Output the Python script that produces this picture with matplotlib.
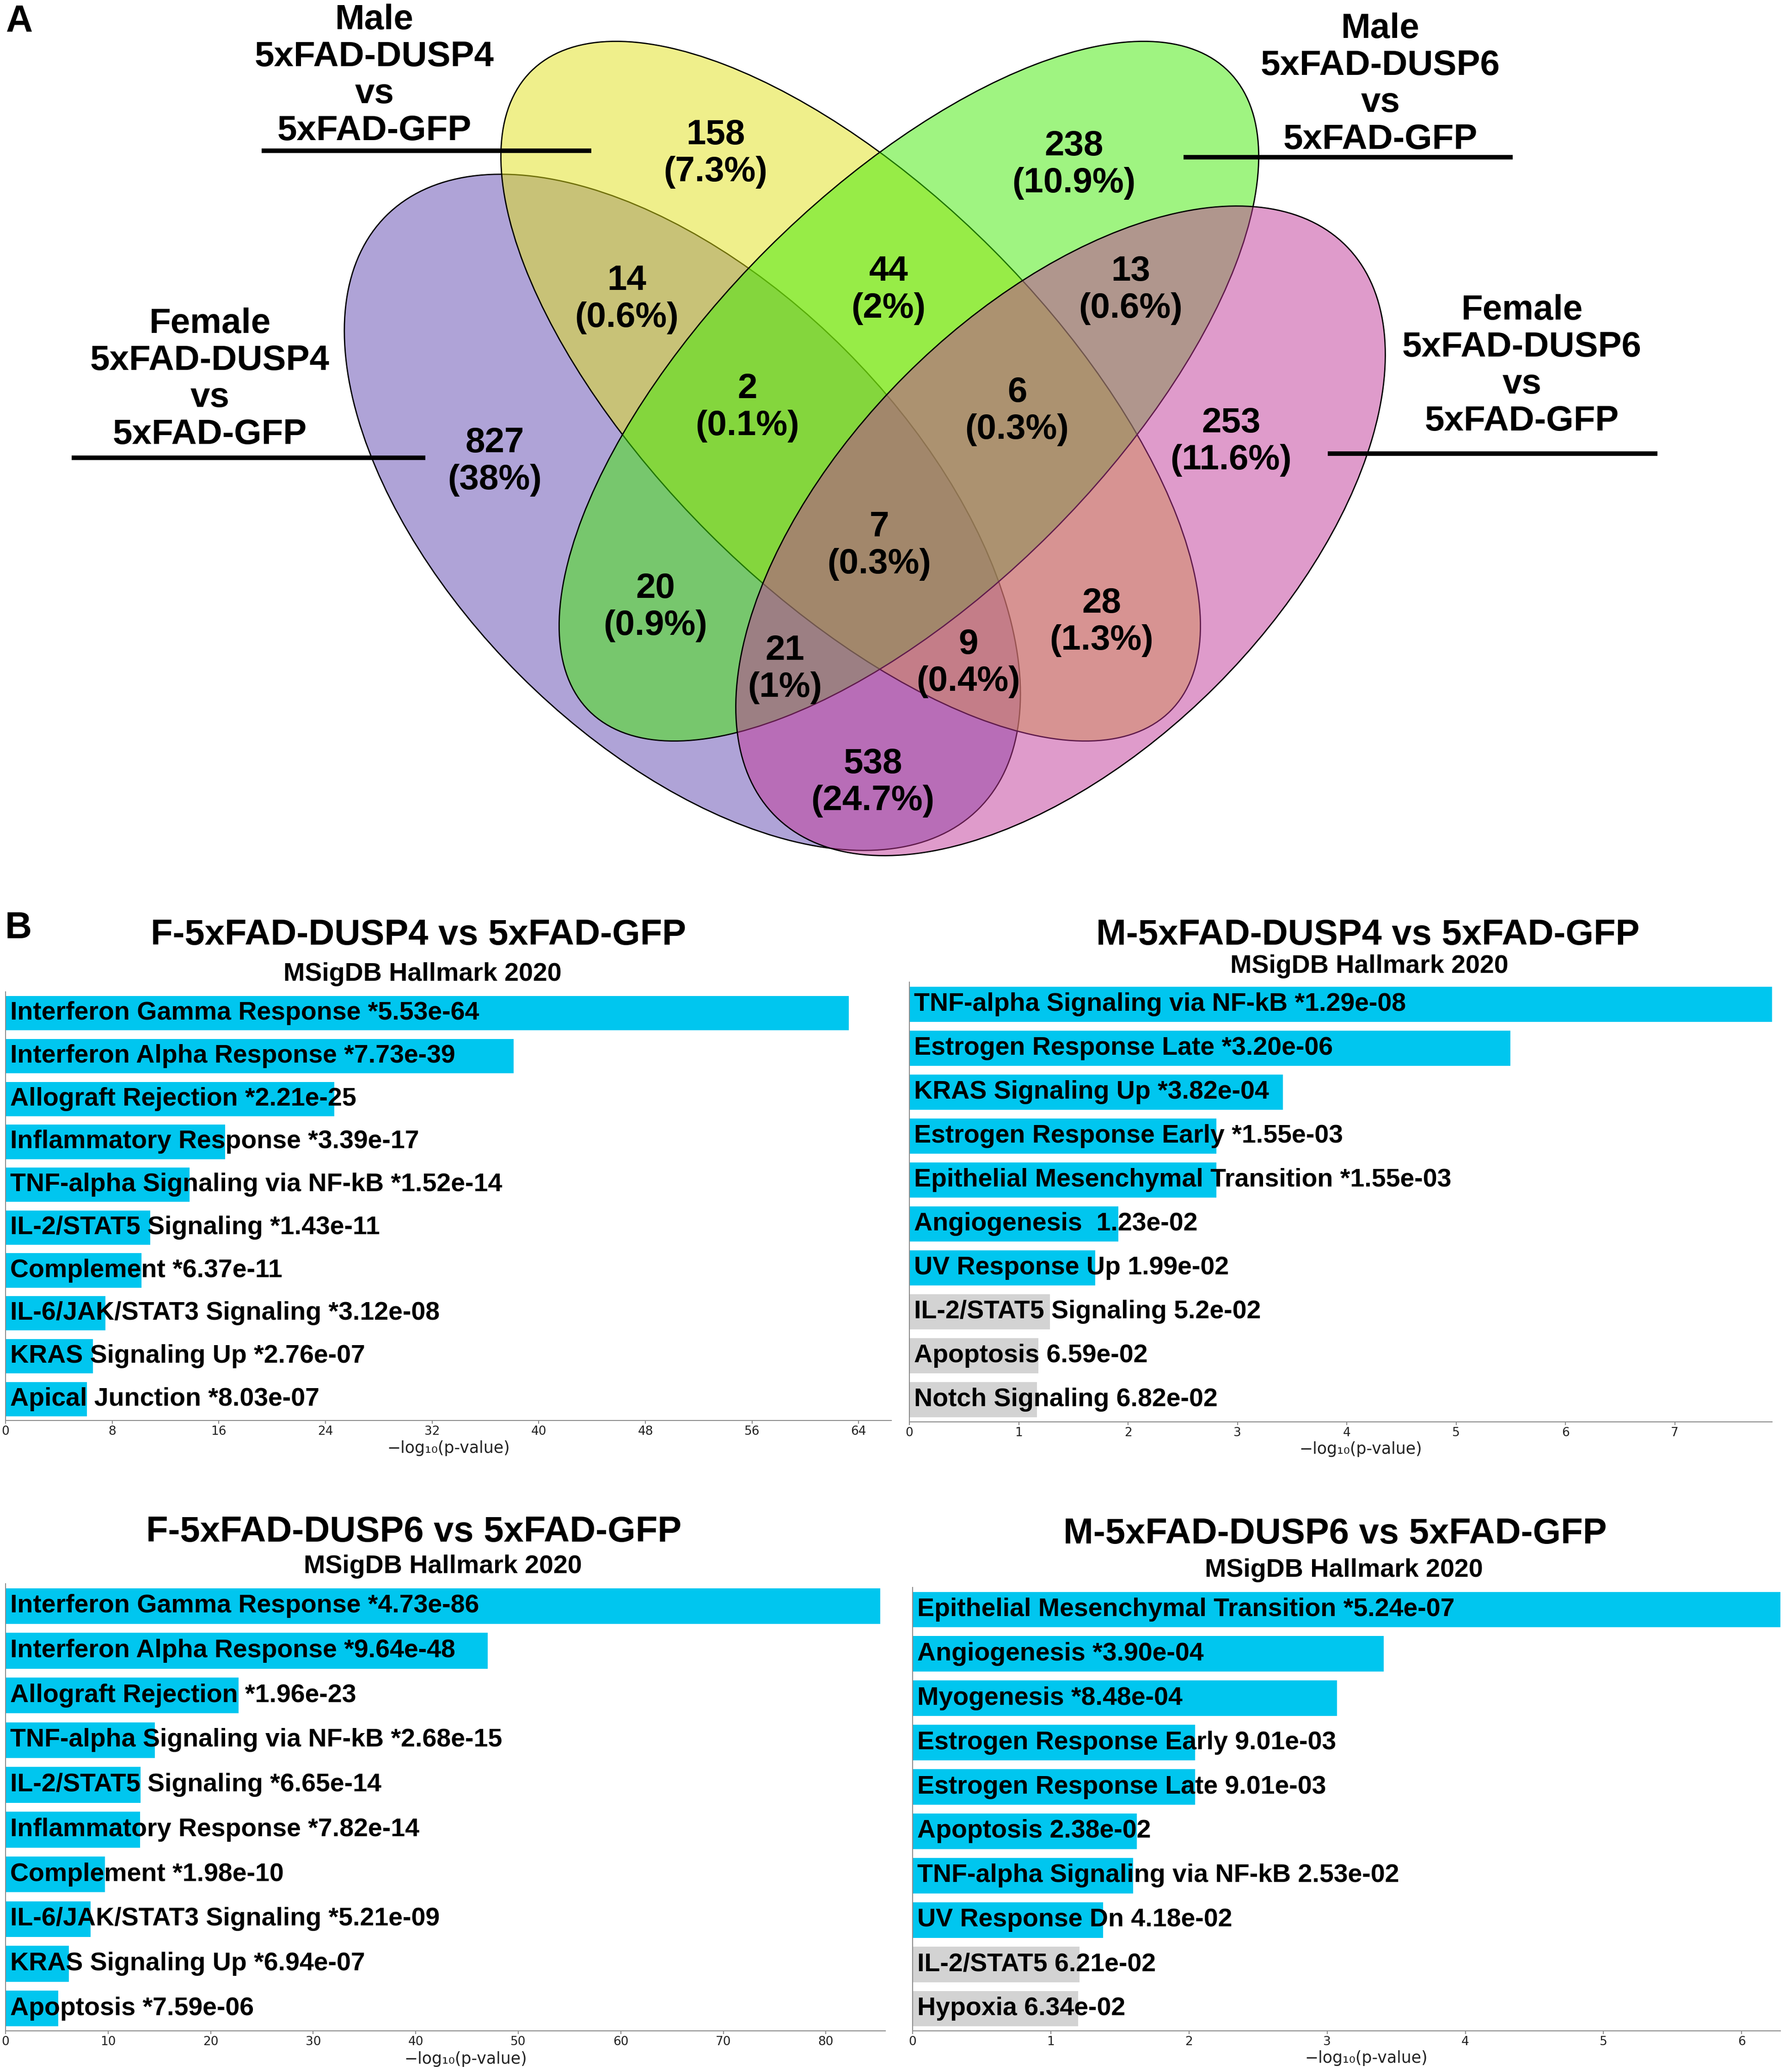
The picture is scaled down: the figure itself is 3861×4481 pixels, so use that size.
import numpy as np
import matplotlib.pyplot as plt
from matplotlib.colors import to_rgba
from matplotlib.patches import Ellipse

plt.rcParams['font.family'] = ['Liberation Sans', 'DejaVu Sans']

W, H = 3861, 4481

# ---- Venn: A = Female DUSP4, B = Male DUSP4, C = Male DUSP6, D = Female DUSP6
regions = ['A', 'B', 'C', 'D', 'AB', 'BC', 'CD', 'AD', 'AC', 'BD',
           'ABC', 'BCD', 'ACD', 'ABD', 'ABCD']
counts = [827, 158, 238, 253, 14, 44, 13, 538, 20, 28, 2, 6, 21, 9, 7]
percents = ['38%', '7.3%', '10.9%', '11.6%', '0.6%', '2%', '0.6%', '24.7%',
            '0.9%', '1.3%', '0.1%', '0.3%', '1%', '0.4%', '0.3%']
set_names = ['Female\n5xFAD-DUSP4\nvs\n5xFAD-GFP',
             'Male\n5xFAD-DUSP4\nvs\n5xFAD-GFP',
             'Male\n5xFAD-DUSP6\nvs\n5xFAD-GFP',
             'Female\n5xFAD-DUSP6\nvs\n5xFAD-GFP']

# ---- enrichment bars (MSigDB Hallmark 2020)
f4_labels = ['Interferon Gamma Response *5.53e-64', 'Interferon Alpha Response *7.73e-39',
             'Allograft Rejection *2.21e-25', 'Inflammatory Response *3.39e-17',
             'TNF-alpha Signaling via NF-kB *1.52e-14', 'IL-2/STAT5 Signaling *1.43e-11',
             'Complement *6.37e-11', 'IL-6/JAK/STAT3 Signaling *3.12e-08',
             'KRAS Signaling Up *2.76e-07', 'Apical Junction *8.03e-07']
f4_p = [5.53e-64, 7.73e-39, 2.21e-25, 3.39e-17, 1.52e-14, 1.43e-11, 6.37e-11,
        3.12e-08, 2.76e-07, 8.03e-07]

m4_labels = ['TNF-alpha Signaling via NF-kB *1.29e-08', 'Estrogen Response Late *3.20e-06',
             'KRAS Signaling Up *3.82e-04', 'Estrogen Response Early *1.55e-03',
             'Epithelial Mesenchymal Transition *1.55e-03', 'Angiogenesis  1.23e-02',
             'UV Response Up 1.99e-02', 'IL-2/STAT5 Signaling 5.2e-02',
             'Apoptosis 6.59e-02', 'Notch Signaling 6.82e-02']
m4_p = [1.29e-08, 3.20e-06, 3.82e-04, 1.55e-03, 1.55e-03, 1.23e-02, 1.99e-02,
        5.2e-02, 6.59e-02, 6.82e-02]

f6_labels = ['Interferon Gamma Response *4.73e-86', 'Interferon Alpha Response *9.64e-48',
             'Allograft Rejection *1.96e-23', 'TNF-alpha Signaling via NF-kB *2.68e-15',
             'IL-2/STAT5 Signaling *6.65e-14', 'Inflammatory Response *7.82e-14',
             'Complement *1.98e-10', 'IL-6/JAK/STAT3 Signaling *5.21e-09',
             'KRAS Signaling Up *6.94e-07', 'Apoptosis *7.59e-06']
f6_p = [4.73e-86, 9.64e-48, 1.96e-23, 2.68e-15, 6.65e-14, 7.82e-14, 1.98e-10,
        5.21e-09, 6.94e-07, 7.59e-06]

m6_labels = ['Epithelial Mesenchymal Transition *5.24e-07', 'Angiogenesis *3.90e-04',
             'Myogenesis *8.48e-04', 'Estrogen Response Early 9.01e-03',
             'Estrogen Response Late 9.01e-03', 'Apoptosis 2.38e-02',
             'TNF-alpha Signaling via NF-kB 2.53e-02', 'UV Response Dn 4.18e-02',
             'IL-2/STAT5 6.21e-02', 'Hypoxia 6.34e-02']
m6_p = [5.24e-07, 3.90e-04, 8.48e-04, 9.01e-03, 9.01e-03, 2.38e-02, 2.53e-02,
        4.18e-02, 6.21e-02, 6.34e-02]

fig = plt.figure(figsize=(W / 100, H / 100), dpi=100)

# ---------------- panel A : venn (axes in pixel units, y down)
VH = 1950
av = fig.add_axes([0, 1 - VH / H, 1, VH / H])
av.set_xlim(0, W)
av.set_ylim(VH, 0)
av.axis('off')

# cx, cy, width, height, angle, colour
ell = [(1476, 1108, 1813, 995, 45, '#6149b1'),
       (1840, 846, 1956, 868, 45, '#e1e119'),
       (1966, 846, 1956, 868, -45, '#41eb05'),
       (2294, 1148, 1745, 950, -45, '#c13999')]
for i, (cx, cy, w, h, ang, c) in enumerate(ell):
    av.add_patch(Ellipse((cx, cy), w, h, angle=ang, fc=to_rgba(c, 0.5),
                         edgecolor='black', lw=2.0, zorder=i + 1))

region_xy = {'A': (1070, 991), 'B': (1548, 325), 'C': (2323, 349), 'D': (2663, 948),
             'AB': (1356, 640), 'BC': (1922, 620), 'CD': (2446, 620), 'AD': (1888, 1685),
             'AC': (1418, 1306), 'BD': (2383, 1338), 'ABC': (1617, 874),
             'BCD': (2200, 882), 'ACD': (1698, 1440), 'ABD': (2095, 1427),
             'ABCD': (1902, 1173)}
fs_v = 55
for r, n, p in zip(regions, counts, percents):
    x, y = region_xy[r]
    av.text(x, y - 13, str(n), ha='center', va='baseline', fontsize=fs_v,
            fontweight='bold', zorder=10)
    av.text(x, y + 67, '(' + p + ')', ha='center', va='baseline', fontsize=fs_v,
            fontweight='bold', zorder=10)

# label x, first line centre y, underline x0, x1, y
name_pos = [(454, 693, 155, 920, 990),
            (810, 36, 566, 1279, 326),
            (2986, 55, 2560, 3272, 340),
            (3292, 664, 2872, 3585, 981)]
for name, (x, y0, lx0, lx1, ly) in zip(set_names, name_pos):
    for k, line in enumerate(name.split('\n')):
        av.text(x, y0 + 27 + 80 * k, line, ha='center', va='baseline',
                fontsize=fs_v, fontweight='bold', zorder=10)
    av.plot([lx0, lx1], [ly, ly], color='black', lw=7, zorder=10,
            solid_capstyle='butt')

fig.text(42 / W, 1 - 47 / H, 'A', ha='center', va='center', fontsize=58,
         fontweight='heavy')
fig.text(40 / W, 1 - 2008 / H, 'B', ha='center', va='center', fontsize=58,
         fontweight='heavy')

# ---------------- panel B : bar charts
panels = [
    dict(title='F-5xFAD-DUSP4 vs 5xFAD-GFP', labels=f4_labels, p=f4_p,
         box=(12, 2145, 1928, 3072), xmax=66.45, step=8,
         title_xy=(905, 2015), sub_xy=(914, 2101), xl_xy=(970, 3132)),
    dict(title='M-5xFAD-DUSP4 vs 5xFAD-GFP', labels=m4_labels, p=m4_p,
         box=(1967, 2124, 3833, 3075), xmax=7.89, step=1,
         title_xy=(2959, 2015), sub_xy=(2962, 2084), xl_xy=(2943, 3134)),
    dict(title='F-5xFAD-DUSP6 vs 5xFAD-GFP', labels=f6_labels, p=f6_p,
         box=(12, 3425, 1915, 4392), xmax=85.8, step=10,
         title_xy=(895, 3306), sub_xy=(958, 3382), xl_xy=(1007, 4453)),
    dict(title='M-5xFAD-DUSP6 vs 5xFAD-GFP', labels=m6_labels, p=m6_p,
         box=(1974, 3433, 3851, 4392), xmax=6.28, step=1,
         title_xy=(2888, 3310), sub_xy=(2907, 3390), xl_xy=(2955, 4451)),
]

for pn in panels:
    x0, y0, x1, y1 = pn['box']
    ax = fig.add_axes([x0 / W, 1 - y1 / H, (x1 - x0) / W, (y1 - y0) / H])
    p = np.array(pn['p'])
    vals = -np.log10(p)
    cols = np.where(p < 0.05, '#00c6ef', '#d3d3d3')
    pos = np.arange(len(vals))
    ax.barh(pos, vals, height=0.8, color=cols)
    for i, lab in enumerate(pn['labels']):
        ax.annotate(lab, xy=(0, i), xytext=(7, 0), textcoords='offset points',
                    ha='left', va='center', fontsize=40, fontweight='bold')
    ax.set_ylim(len(vals) - 0.5, -0.5)
    ax.set_xlim(0, pn['xmax'])
    ax.set_xticks(np.arange(0, pn['xmax'], pn['step']))
    ax.set_yticks([])
    for s in ['top', 'right']:
        ax.spines[s].set_visible(False)
    for s in ['left', 'bottom']:
        ax.spines[s].set_color('#8c8c8c')
        ax.spines[s].set_linewidth(1.5)
    ax.tick_params(axis='x', labelsize=19, length=5, width=1.5, pad=3,
                   colors='#8c8c8c', labelcolor='#222222')
    for t in ax.get_xticklabels():
        t.set_family('DejaVu Sans')
    ax.set_xlabel('\u2212log\u2081\u2080(p-value)', fontsize=25, family='DejaVu Sans',
                  color='#222222')
    ax.xaxis.set_label_coords((pn['xl_xy'][0] - x0) / (x1 - x0),
                              (y1 - pn['xl_xy'][1]) / (y1 - y0))
    ax.xaxis.label.set_va('center')

    tx, ty = pn['title_xy']
    fig.text(tx / W, 1 - (ty + 28) / H, pn['title'], ha='center', va='baseline',
             fontsize=56, fontweight='bold')
    sx, sy = pn['sub_xy']
    fig.text(sx / W, 1 - (sy + 20) / H, 'MSigDB Hallmark 2020', ha='center',
             va='baseline', fontsize=40, fontweight='bold')

fig.savefig('out.png', dpi=100)
